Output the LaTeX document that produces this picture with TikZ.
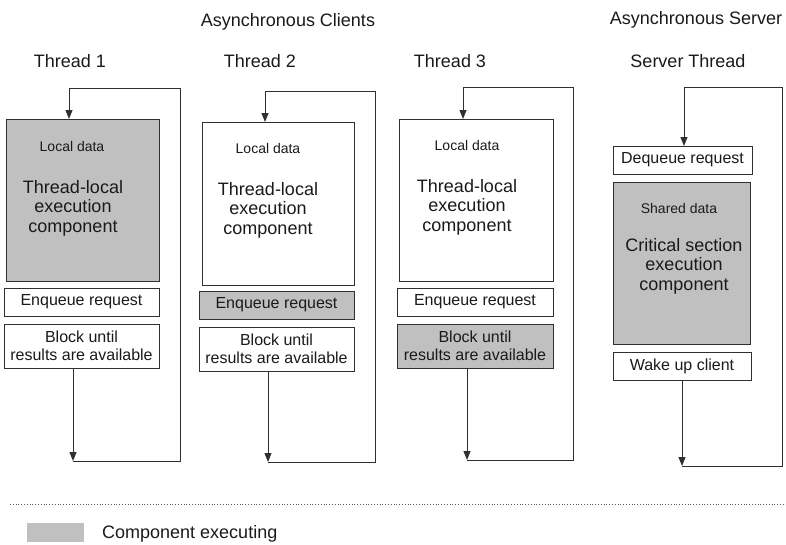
\documentclass[tikz,border=0pt]{standalone}
\usepackage{fontspec}
\setmainfont{Liberation Sans}
\usetikzlibrary{arrows.meta}
\definecolor{busy}{HTML}{C0C0C0}
\definecolor{edge}{HTML}{303030}
\definecolor{ink}{HTML}{1A1A1A}
\tikzset{
  box/.style={draw=edge, line width=1pt, inner sep=0pt, outer sep=0pt, anchor=north west, fill=white},
  busybox/.style={box, fill=busy},
  boxtext/.style={text=ink, font=\fontsize{16}{18}\selectfont, align=center, inner sep=0pt},
  bigtext/.style={text=ink, font=\fontsize{18}{19.5}\selectfont, align=center, inner sep=0pt},
  smalltext/.style={text=ink, font=\fontsize{14}{16}\selectfont, inner sep=0pt},
  title/.style={text=ink, font=\fontsize{18}{21}\selectfont, inner sep=0pt},
  flow/.style={draw=edge, line width=1pt, -{Triangle[length=9pt,width=7pt]}},
  loopline/.style={draw=edge, line width=1pt},
}
\begin{document}
\begin{tikzpicture}[x=1pt,y=-1pt]
\useasboundingbox (0,0) rectangle (786,544);

% headings
\node[title] (hclients) at (288,22) {Asynchronous Clients};
\node[title] (hserver) at (696,20) {Asynchronous Server};
\node[title] (ht1) at (70,61) {Thread 1};
\node[title] (ht2) at (260,61) {Thread 2};
\node[title] (ht3) at (450,61) {Thread 3};
\node[title] (hts) at (688,61) {Server Thread};

% ---- client thread 1 ----
\node[busybox, minimum width=153pt, minimum height=162pt] (exec1) at (6,119) {};
\node[smalltext] (ld1) at (72,146) {Local data};
\node[bigtext] (tl1) at (73,208) {Thread-local\\execution\\component};
\node[box, minimum width=155pt, minimum height=28pt] (enq1) at (4,288) {};
\node[boxtext] at (enq1.center) {Enqueue request};
\node[box, minimum width=155pt, minimum height=44pt] (blk1) at (4,324) {};
\node[boxtext] at (blk1.center) {Block until\\results are available};
\coordinate (a1) at (73,461);
\coordinate (b1) at (180,461);
\coordinate (c1) at (180,88);
\coordinate (d1) at (69,88);
\draw[flow] (blk1.south -| a1) -- (a1);
\draw[flow] (a1) -- (b1) -- (c1) -- (d1) -- (exec1.north -| d1);

% ---- client thread 2 ----
\node[box, minimum width=152pt, minimum height=163pt] (exec2) at (202,122) {};
\node[smalltext] (ld2) at (268,148) {Local data};
\node[bigtext] (tl2) at (268,210) {Thread-local\\execution\\component};
\node[busybox, minimum width=155pt, minimum height=28pt] (enq2) at (199,291) {};
\node[boxtext] at (enq2.center) {Enqueue request};
\node[box, minimum width=155pt, minimum height=44pt] (blk2) at (199,327) {};
\node[boxtext] at (blk2.center) {Block until\\results are available};
\coordinate (a2) at (268,462);
\coordinate (b2) at (375,462);
\coordinate (c2) at (375,91);
\coordinate (d2) at (265,91);
\draw[flow] (blk2.south -| a2) -- (a2);
\draw[flow] (a2) -- (b2) -- (c2) -- (d2) -- (exec2.north -| d2);

% ---- client thread 3 ----
\node[box, minimum width=154pt, minimum height=162pt] (exec3) at (399,119) {};
\node[smalltext] (ld3) at (467,145) {Local data};
\node[bigtext] (tl3) at (467,207) {Thread-local\\execution\\component};
\node[box, minimum width=156pt, minimum height=28pt] (enq3) at (397,288) {};
\node[boxtext] at (enq3.center) {Enqueue request};
\node[busybox, minimum width=156pt, minimum height=44pt] (blk3) at (397,324) {};
\node[boxtext] at (blk3.center) {Block until\\results are available};
\coordinate (a3) at (467,460);
\coordinate (b3) at (573,460);
\coordinate (c3) at (573,87);
\coordinate (d3) at (463,87);
\draw[flow] (blk3.south -| a3) -- (a3);
\draw[flow] (a3) -- (b3) -- (c3) -- (d3) -- (exec3.north -| d3);

% ---- server thread ----
\node[box, minimum width=139pt, minimum height=28pt] (deq) at (613,146) {};
\node[boxtext] at (deq.center) {Dequeue request};
\node[busybox, minimum width=137pt, minimum height=162pt] (crit) at (613,182) {};
\node[smalltext] (sd) at (679,208) {Shared data};
\node[bigtext] (cs) at (684,266) {Critical section\\execution\\component};
\node[box, minimum width=138pt, minimum height=28pt] (wake) at (613,352) {};
\node[boxtext] at (wake.center) {Wake up client};
\coordinate (as) at (682,466);
\coordinate (bs) at (782,466);
\coordinate (cs1) at (782,87);
\coordinate (ds) at (684,87);
\draw[flow] (wake.south -| as) -- (as);
\draw[flow] (as) -- (bs) -- (cs1) -- (ds) -- (deq.north -| ds);

% ---- separator and legend ----
\coordinate (sepl) at (10,504);
\coordinate (sepr) at (786,504);
\draw[edge!80, line width=0.8pt, dotted] (sepl) -- (sepr);
\node[fill=busy, inner sep=0pt, minimum width=57pt, minimum height=19pt, anchor=north west] (key) at (27,523) {};
\node[title, anchor=west] (keytext) at (102,534) {Component executing};
\end{tikzpicture}
\end{document}
